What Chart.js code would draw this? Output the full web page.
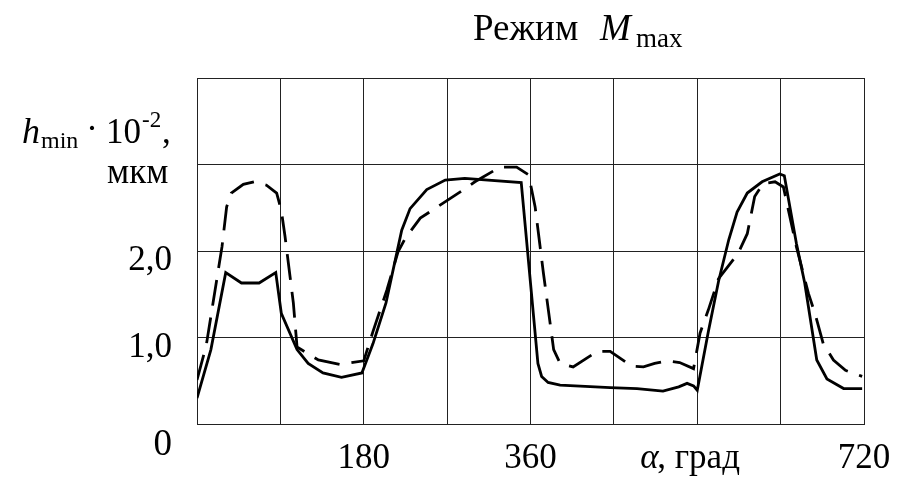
<!DOCTYPE html>
<html>
<head>
<meta charset="utf-8">
<script src="https://cdn.jsdelivr.net/npm/chart.js@4"></script>
<style>
  body { margin: 0; background: #fff; }
  canvas { display: block; }
</style>
</head>
<body>
<canvas id="hminChart" width="906" height="486"></canvas>
<script>
// crank angle, deg (solid curve)
const solidAngles = [0, 15, 31, 48, 67, 85, 91, 108, 120, 136, 156, 178, 190, 204, 221,
    230, 248, 268, 289, 350, 368, 372, 379, 392, 446, 475, 503, 520, 529, 536,
    540, 552, 563, 574, 583, 594, 610, 629, 634, 647, 656, 669, 680, 698, 718];
const solidValues = [0.30, 0.86, 1.75, 1.63, 1.63, 1.75, 1.28, 0.86, 0.70, 0.59, 0.54, 0.59, 0.93, 1.40, 2.24,
    2.49, 2.71, 2.82, 2.84, 2.79, 0.70, 0.55, 0.48, 0.45, 0.42, 0.41, 0.38, 0.43, 0.47, 0.44,
    0.39, 1.07, 1.65, 2.13, 2.45, 2.67, 2.80, 2.89, 2.87, 2.09, 1.63, 0.74, 0.52, 0.41, 0.41];

// dashed curve
const dashAngles = [0, 10, 27, 32, 37, 50, 62, 75, 86, 91, 95, 104, 108, 131, 154,
    180, 190, 205, 217, 225, 241, 288, 300, 327, 345, 358, 365, 374, 385, 392,
    406, 432, 446, 469, 482, 494, 507, 521, 536, 543, 552, 563, 584, 594, 602,
    611, 624, 633, 647, 660, 667, 676, 687, 700, 718];
const dashValues = [0.51, 0.91, 2.05, 2.51, 2.67, 2.77, 2.80, 2.76, 2.67, 2.47, 2.17, 1.40, 0.89, 0.74, 0.69,
    0.73, 1.07, 1.55, 1.99, 2.15, 2.38, 2.71, 2.80, 2.97, 2.97, 2.88, 2.51, 1.74, 0.86, 0.70,
    0.66, 0.84, 0.84, 0.67, 0.66, 0.70, 0.73, 0.71, 0.64, 1.05, 1.32, 1.68, 1.97, 2.20, 2.63,
    2.78, 2.80, 2.74, 2.05, 1.51, 1.28, 0.93, 0.74, 0.62, 0.55];

// tick labels
const xTickValues = [180, 360, 720];
const xTickLabels = ['180', '360', '720'];
const yTickValues = [0, 1, 2];
const yTickLabels = ['0', '1,0', '2,0'];

const SERIF = '"Liberation Serif", "Times New Roman", serif';

const toPoints = (xs, ys) => xs.map((x, i) => ({ x: x, y: ys[i] }));

const put = (ctx, str, x, y, size, style, align) => {
    ctx.save();
    ctx.font = `${style || ''} ${size}px ${SERIF}`;
    ctx.textAlign = align || 'left';
    ctx.textBaseline = 'alphabetic';
    ctx.fillStyle = '#000';
    ctx.fillText(str, x, y);
    ctx.restore();
};

const labelsPlugin = {
    id: 'labels',
    afterDraw(chart) {
        const ctx = chart.ctx;
        const xs = chart.scales.x;
        const ys = chart.scales.y;

        // title: Режим M_max
        put(ctx, 'Режим', 473, 40, 37);
        put(ctx, 'M', 600, 40, 37, 'italic');
        put(ctx, 'max', 636, 47, 27);

        // y axis caption
        put(ctx, 'h', 22, 143, 36, 'italic');
        put(ctx, 'min', 41, 148, 24);
        put(ctx, '·', 92, 140, 36, '', 'center');
        put(ctx, '10', 106, 143, 35);
        put(ctx, '-2', 142, 127, 23);
        put(ctx, ',', 162, 143, 35);
        put(ctx, 'мкм', 107, 183, 35);

        // y tick labels (sit below their grid lines)
        yTickValues.forEach((v, i) => {
            const off = v === 0 ? 31 : 19;
            const size = v === 0 ? 37 : 35;
            put(ctx, yTickLabels[i], 172, ys.getPixelForValue(v) + off, size, '', 'right');
        });

        // x tick labels
        xTickValues.forEach((v, i) => {
            put(ctx, xTickLabels[i], xs.getPixelForValue(v), 468, 35, '', 'center');
        });

        // x axis caption: α, град
        const cx = xs.getPixelForValue(540);
        put(ctx, 'α', cx - 57, 468, 35, 'italic');
        put(ctx, ', град', cx - 40, 468, 35);
    }
};

const ctx = document.getElementById('hminChart').getContext('2d');
new Chart(ctx, {
    type: 'line',
    data: {
        datasets: [{
            label: 'solid',
            data: toPoints(solidAngles, solidValues),
            borderColor: '#000',
            borderWidth: 2.8,
            pointRadius: 0,
            tension: 0,
            fill: false
        }, {
            label: 'dashed',
            data: toPoints(dashAngles, dashValues),
            borderColor: '#000',
            borderWidth: 2.8,
            borderDash: [26, 12],
            pointRadius: 0,
            tension: 0,
            fill: false
        }]
    },
    options: {
        responsive: false,
        animation: false,
        devicePixelRatio: 1,
        layout: {
            padding: { left: 197, top: 78, right: 42, bottom: 62 }
        },
        plugins: {
            legend: { display: false },
            tooltip: { enabled: false }
        },
        scales: {
            x: {
                type: 'linear',
                min: 0,
                max: 720,
                ticks: { display: false, stepSize: 90 },
                grid: { color: '#222', lineWidth: 1, drawTicks: false },
                border: { color: '#222', width: 1 }
            },
            y: {
                min: 0,
                max: 4,
                ticks: { display: false, stepSize: 1 },
                grid: { color: '#222', lineWidth: 1, drawTicks: false },
                border: { color: '#222', width: 1 }
            }
        }
    },
    plugins: [labelsPlugin]
});
</script>
</body>
</html>
